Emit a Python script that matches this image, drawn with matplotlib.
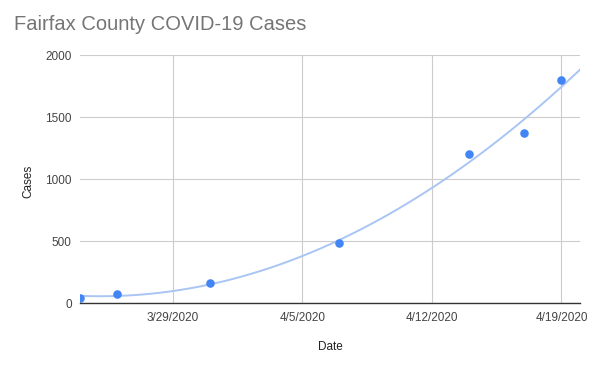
import matplotlib
matplotlib.use("Agg")
import matplotlib.pyplot as plt
import matplotlib.dates as mdates
import numpy as np
import datetime as dt

dates = ["2020-03-24", "2020-03-26", "2020-03-31", "2020-04-07", "2020-04-14", "2020-04-17", "2020-04-19"]
cases = [45, 75, 160, 489, 1204, 1373, 1803]
x_ticks = ["2020-03-29", "2020-04-05", "2020-04-12", "2020-04-19"]
x_tick_labels = ["3/29/2020", "4/5/2020", "4/12/2020", "4/19/2020"]
y_ticks = [0, 500, 1000, 1500, 2000]

plt.rcParams['font.family'] = ['Liberation Sans', 'DejaVu Sans']

fig = plt.figure(figsize=(5.98, 3.69), dpi=100)
W, H = 598, 369
ax = fig.add_axes([80 / W, 1 - 303.3 / H, 500 / W, (303.3 - 55.3) / H])

xd = mdates.date2num([dt.date.fromisoformat(d) for d in dates])
xmin = mdates.date2num(dt.date(2020, 3, 24))
xmax = mdates.date2num(dt.date(2020, 4, 20))

coef = np.polyfit(xd - xmin, cases, 2)
xs = np.linspace(xmin, xmax, 200)
ax.plot(xs, np.polyval(coef, xs - xmin), color="#a9c5f3", lw=1.4, zorder=2, clip_on=True)
ax.scatter(xd, cases, s=38, color="#4285f4", zorder=3, clip_on=True, linewidths=0)

ax.set_xlim(xmin, xmax)
ax.set_ylim(0, 2000)
ax.set_xticks(mdates.date2num([dt.date.fromisoformat(d) for d in x_ticks]))
ax.set_xticklabels(x_tick_labels)
ax.set_yticks(y_ticks)
ax.grid(True, color="#cccccc", lw=0.8)
ax.set_axisbelow(True)
for s in ["top", "right", "left"]:
    ax.spines[s].set_visible(False)
ax.spines["bottom"].set_color("#333333")
ax.spines["bottom"].set_linewidth(1.0)
ax.spines["bottom"].set_zorder(4)
ax.tick_params(axis="both", length=0, labelsize=8.5, labelcolor="#444444")
ax.tick_params(axis="x", pad=6)
ax.tick_params(axis="y", pad=6)

fig.text(14 / W, 1 - 25 / H, "Fairfax County COVID-19 Cases", fontsize=14.5, color="#757575",
         va="center", ha="left")
fig.text(330 / W, 1 - 347 / H, "Date", fontsize=8.5, color="#222222", ha="center", va="center")
fig.text(28 / W, 1 - 181 / H, "Cases", fontsize=8.5, color="#222222", ha="center", va="center",
         rotation=90)

fig.savefig("out.png", dpi=100)
